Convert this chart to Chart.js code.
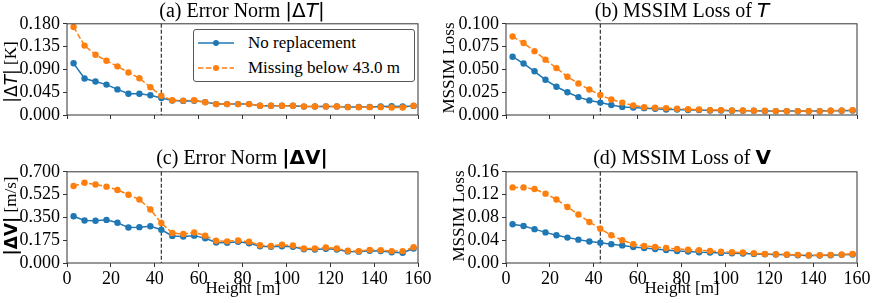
<!DOCTYPE html>
<html><head><meta charset="utf-8">
<script src="https://cdn.jsdelivr.net/npm/chart.js@4.4.1/dist/chart.umd.min.js"></script>
<style>
html,body{margin:0;padding:0;background:#fff;overflow:hidden;}
#wrap{position:relative;width:872px;height:303px;background:#fff;overflow:hidden;}
canvas{position:absolute;}
.t{position:absolute;white-space:nowrap;font-family:'Liberation Serif','Times New Roman',serif;color:#000;line-height:20px;}
.m{font-family:'DejaVu Sans',sans-serif;}
.i{font-style:italic;}
.b{font-weight:bold;}
.title{font-size:20px;transform:translateX(-50%);}
.ylab{font-size:17px;writing-mode:vertical-rl;transform:translate(-50%,-50%) rotate(180deg);line-height:20px;}
.xlab{font-size:17px;transform:translate(-50%,-50%);}
#legend{position:absolute;left:193px;top:29px;width:222px;height:53px;border:1px solid #555;border-radius:3px;background:#fff;box-sizing:border-box;}
.lrow{position:absolute;left:0;height:20px;}
.lrow svg{position:absolute;left:4px;top:0;}
.lrow span{position:absolute;left:54px;top:0;font-family:'Liberation Serif','Times New Roman',serif;font-size:17px;line-height:20px;white-space:nowrap;}
</style></head>
<body>
<div id="wrap">
  <canvas id="cA"></canvas><canvas id="cB"></canvas><canvas id="cC"></canvas><canvas id="cD"></canvas>
  <div class="t title" style="left:242px;top:0px">(a) Error Norm <span class="m">|Δ<span class="i">T</span>|</span></div>
  <div class="t title" style="left:682px;top:0px">(b) MSSIM Loss of <span class="m i">T</span></div>
  <div class="t title" style="left:242px;top:147px">(c) Error Norm <span class="m b">|ΔV|</span></div>
  <div class="t title" style="left:682px;top:147px">(d) MSSIM Loss of <span class="m b">V</span></div>
  <div class="t ylab" style="left:11px;top:72px"><span class="m">|Δ<span class="i">T</span>|</span> [K]</div>
  <div class="t ylab" style="left:449px;top:68px">MSSIM Loss</div>
  <div class="t ylab" style="left:11px;top:216px"><span class="m b">|ΔV|</span> [m/s]</div>
  <div class="t ylab" style="left:459px;top:216px">MSSIM Loss</div>
  <div class="t xlab" style="left:243px;top:288px">Height [m]</div>
  <div class="t xlab" style="left:682px;top:288px">Height [m]</div>
  <div id="legend">
    <div class="lrow" style="top:3px"><svg width="40" height="20"><line x1="0" y1="10" x2="36" y2="10" stroke="#1f77b4" stroke-width="1.5"/><circle cx="18" cy="10" r="3" fill="#1f77b4"/></svg><span id="l0"></span></div>
    <div class="lrow" style="top:28px"><svg width="40" height="20"><line x1="0" y1="10" x2="36" y2="10" stroke="#ff7f0e" stroke-width="1.5" stroke-dasharray="5.5,2.4"/><circle cx="18" cy="10" r="3" fill="#ff7f0e"/></svg><span id="l1"></span></div>
  </div>
</div>
<script>
const heights = [3,8,13,18,23,28,33,38,43,48,53,58,63,68,73,78,83,88,93,98,103,108,113,118,123,128,133,138,143,148,153,158];
const seriesNames = ['No replacement','Missing below 43.0 m'];
const cutoffHeight = 43.0;

const noRepNormT = [0.102,0.072,0.066,0.060,0.0505,0.042,0.042,0.039,0.0335,0.0284,0.0278,0.0280,0.0255,0.0215,0.0215,0.0215,0.0215,0.0183,0.0183,0.0183,0.0183,0.0166,0.0168,0.017,0.0168,0.0158,0.0158,0.016,0.0168,0.0172,0.017,0.018];
const missNormT  = [0.1737,0.137,0.119,0.107,0.096,0.084,0.0726,0.055,0.0379,0.029,0.0284,0.029,0.0253,0.0215,0.0215,0.0215,0.0215,0.0183,0.0183,0.0183,0.0183,0.017,0.017,0.017,0.017,0.0155,0.0155,0.0155,0.0155,0.0148,0.0148,0.0183];

const noRepSsimT = [0.0639,0.0564,0.0479,0.0386,0.031,0.025,0.0196,0.016,0.0136,0.011,0.0089,0.0082,0.0075,0.0068,0.006,0.006,0.0054,0.0054,0.005,0.005,0.0046,0.0046,0.0046,0.0043,0.0043,0.0043,0.0043,0.0043,0.0043,0.0046,0.0046,0.005];
const missSsimT  = [0.086,0.079,0.070,0.0607,0.0514,0.042,0.0346,0.0279,0.022,0.017,0.0136,0.0104,0.0086,0.0079,0.0075,0.0068,0.0064,0.006,0.0054,0.0054,0.005,0.005,0.0046,0.0046,0.0043,0.0043,0.0043,0.0043,0.0043,0.0046,0.005,0.0054];

const noRepNormV = [0.359,0.326,0.324,0.331,0.309,0.272,0.275,0.282,0.255,0.208,0.203,0.210,0.190,0.158,0.156,0.163,0.151,0.129,0.124,0.129,0.124,0.106,0.104,0.109,0.104,0.089,0.087,0.094,0.0915,0.082,0.079,0.111];
const missNormV  = [0.591,0.616,0.603,0.586,0.561,0.524,0.487,0.411,0.307,0.230,0.223,0.235,0.210,0.171,0.166,0.173,0.163,0.136,0.131,0.141,0.134,0.111,0.111,0.119,0.111,0.094,0.0915,0.101,0.099,0.0915,0.0915,0.121];

const noRepSsimV = [0.068,0.065,0.0594,0.0537,0.0486,0.0446,0.041,0.0377,0.0354,0.0331,0.0309,0.028,0.0263,0.0246,0.0229,0.0211,0.020,0.0189,0.0183,0.0177,0.0171,0.0166,0.016,0.0154,0.0149,0.0143,0.0137,0.0131,0.0131,0.0137,0.0143,0.0149];
const missSsimV  = [0.1326,0.1326,0.1297,0.1217,0.1114,0.0983,0.0851,0.072,0.060,0.0486,0.040,0.0331,0.0297,0.028,0.0263,0.0246,0.0234,0.0223,0.0211,0.020,0.0189,0.0183,0.0171,0.016,0.0154,0.0149,0.0143,0.0137,0.0137,0.0143,0.0149,0.016];

const xTicks  = [0,20,40,60,80,100,120,140,160];
const yTicksA = [0,0.045,0.09,0.135,0.18];
const yTicksB = [0,0.025,0.05,0.075,0.1];
const yTicksC = [0,0.175,0.35,0.525,0.7];
const yTicksD = [0,0.04,0.08,0.12,0.16];

document.getElementById('l0').textContent = seriesNames[0];
document.getElementById('l1').textContent = seriesNames[1];

const BLUE = '#1f77b4', ORANGE = '#ff7f0e', FRAME = '#333';
const tickFont = {family:"'Liberation Serif','Times New Roman',serif", size:18};

const decorPlugin = {
  id:'decor',
  beforeDatasetsDraw(chart){
    const {ctx, chartArea:a, scales} = chart;
    const x = scales.x.getPixelForValue(cutoffHeight);
    ctx.save();
    ctx.strokeStyle = '#333'; ctx.lineWidth = 1.2; ctx.setLineDash([4,2]);
    ctx.beginPath(); ctx.moveTo(x, a.top); ctx.lineTo(x, a.bottom); ctx.stroke();
    ctx.restore();
  },
  afterDraw(chart){
    const {ctx, chartArea:a} = chart;
    ctx.save(); ctx.strokeStyle = FRAME; ctx.lineWidth = 1;
    ctx.strokeRect(a.left, a.top, a.right - a.left, a.bottom - a.top);
    ctx.restore();
  }
};

const YW = 62, XH = 40, PT = 10, PR = 16;
function panel(id, area, blue, orange, yTicks, dec, showX){
  const cv = document.getElementById(id);
  const w = (area.r - area.l) + YW + PR, h = (area.b - area.t) + PT + XH;
  cv.width = w; cv.height = h;
  cv.style.left = (area.l - YW) + 'px'; cv.style.top = (area.t - PT) + 'px';
  cv.style.width = w + 'px'; cv.style.height = h + 'px';
  const mk = (vals) => heights.map((x,i)=>({x, y:vals[i]}));
  new Chart(cv, {
    type:'line',
    data:{datasets:[
      {label:seriesNames[0], data:mk(blue), borderColor:BLUE, backgroundColor:BLUE, borderWidth:1.5,
       pointRadius:3.2, pointBorderWidth:0, pointBackgroundColor:BLUE, tension:0, order:1},
      {label:seriesNames[1], data:mk(orange), borderColor:ORANGE, backgroundColor:ORANGE, borderWidth:1.5,
       borderDash:[5.5,2.4], pointRadius:3.2, pointBorderWidth:0, pointBackgroundColor:ORANGE, tension:0, order:0}
    ]},
    options:{
      responsive:false, animation:false, devicePixelRatio:1,
      layout:{padding:{left:0, top:PT, right:PR, bottom:0}},
      plugins:{legend:{display:false}, tooltip:{enabled:false}, title:{display:false}},
      scales:{
        x:{type:'linear', min:0, max:160,
           afterBuildTicks:s=>{s.ticks = xTicks.map(v=>({value:v}));},
           afterFit:s=>{s.height = XH;},
           ticks:{font:tickFont, color:'#000', padding:1, maxRotation:0, autoSkip:false,
                  callback:(v)=> showX ? String(v) : ''},
           grid:{drawOnChartArea:false, drawTicks:true, tickLength:4, color:FRAME, lineWidth:1},
           border:{display:false}},
        y:{type:'linear', min:yTicks[0], max:yTicks[yTicks.length-1],
           afterBuildTicks:s=>{s.ticks = yTicks.map(v=>({value:v}));},
           afterFit:s=>{s.width = YW;},
           ticks:{font:tickFont, color:'#000', padding:3, autoSkip:false,
                  callback:(v)=> Number(v).toFixed(dec)},
           grid:{drawOnChartArea:false, drawTicks:true, tickLength:4, color:FRAME, lineWidth:1},
           border:{display:false}}
      }
    },
    plugins:[decorPlugin]
  });
}

panel('cA', {l:67, t:20, r:418, b:115}, noRepNormT, missNormT, yTicksA, 3, false);
panel('cB', {l:506, t:20, r:857, b:115}, noRepSsimT, missSsimT, yTicksB, 3, false);
panel('cC', {l:67, t:168, r:418, b:263}, noRepNormV, missNormV, yTicksC, 3, true);
panel('cD', {l:506, t:168, r:857, b:263}, noRepSsimV, missSsimV, yTicksD, 2, true);
</script>
</body></html>
